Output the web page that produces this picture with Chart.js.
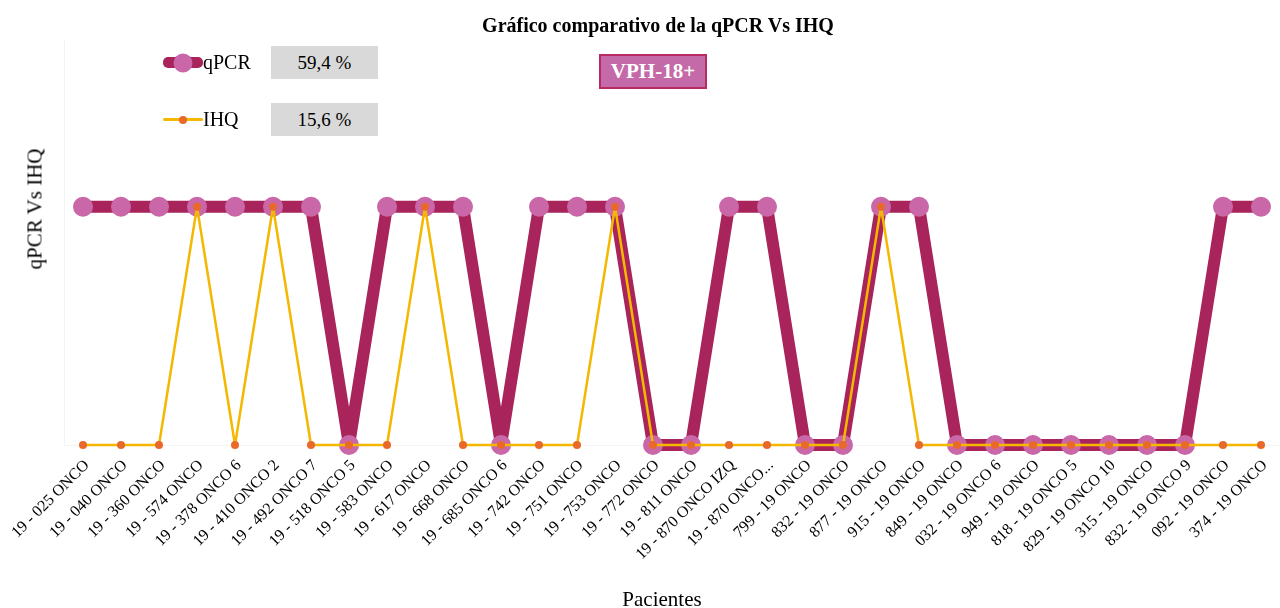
<!DOCTYPE html>
<html>
<head>
<meta charset="utf-8">
<script src="https://cdn.jsdelivr.net/npm/chart.js@4"></script>
<style>
  html, body { margin: 0; padding: 0; background: #fff; }
  #wrap { position: relative; width: 1280px; height: 608px; font-family: "Liberation Serif", serif; }
  #grafico { position: absolute; left: 0; top: 0; }
  .titulo { position: absolute; left: 658px; top: 25px; transform: translate(-50%, -50%); font-size: 20px; font-weight: bold; white-space: nowrap; }
  .xtitulo { position: absolute; left: 662px; top: 599px; transform: translate(-50%, -50%); font-size: 21px; white-space: nowrap; }
  .ytitulo { position: absolute; left: 35px; top: 209px; transform: translate(-50%, -50%) rotate(-90deg); font-size: 21px; white-space: nowrap; }
  .leyenda { position: absolute; left: 163px; height: 33px; display: flex; align-items: center; font-size: 20px; }
  .caja { position: absolute; left: 271px; width: 107px; height: 33px; background: #d9d9d9; font-size: 19px; display: flex; align-items: center; justify-content: center; }
  .mk { position: relative; width: 40px; height: 20px; }
  .mk .ln { position: absolute; left: 0; right: 0; top: 50%; border-radius: 5px; }
  .mk .pt { position: absolute; left: 50%; top: 50%; border-radius: 50%; transform: translate(-50%, -50%); }
  .vph { position: absolute; left: 599px; top: 54px; width: 104px; height: 31px; background: #c46aa8; border: 2px solid #b82a62; color: #fff; font-weight: bold; font-size: 21px; display: flex; align-items: center; justify-content: center; }
</style>
</head>
<body>
<div id="wrap">
  <canvas id="grafico" width="1280" height="608"></canvas>
  <div class="titulo">Gráfico comparativo de la qPCR Vs IHQ</div>
  <div class="ytitulo">qPCR Vs IHQ</div>
  <div class="xtitulo">Pacientes</div>
  <div class="leyenda" style="top:46px">
    <div class="mk"><div class="ln" style="height:11px;margin-top:-5.5px;background:#a8245a"></div><div class="pt" style="width:19px;height:19px;background:#c967a9"></div></div>qPCR
  </div>
  <div class="caja" style="top:46px" id="pct0"></div>
  <div class="leyenda" style="top:103px">
    <div class="mk"><div class="ln" style="height:3px;margin-top:-1.5px;background:#f5b800"></div><div class="pt" style="width:8px;height:8px;background:#e8692a"></div></div>IHQ
  </div>
  <div class="caja" style="top:103px" id="pct1"></div>
  <div class="vph">VPH-18+</div>
</div>
<script>
const pacientes = [
    "19 - 025 ONCO", "19 - 040 ONCO", "19 - 360 ONCO", "19 - 574 ONCO", "19 - 378 ONCO 6",
    "19 - 410 ONCO 2", "19 - 492 ONCO 7", "19 - 518 ONCO 5", "19 - 583 ONCO", "19 - 617 ONCO",
    "19 - 668 ONCO", "19 - 685 ONCO 6", "19 - 742 ONCO", "19 - 751 ONCO", "19 - 753 ONCO",
    "19 - 772 ONCO", "19 - 811 ONCO", "19 - 870 ONCO IZQ", "19 - 870 ONCO...", "799 - 19 ONCO",
    "832 - 19 ONCO", "877 - 19 ONCO", "915 - 19 ONCO", "849 - 19 ONCO", "032 - 19 ONCO 6",
    "949 - 19 ONCO", "818 - 19 ONCO 5", "829 - 19 ONCO 10", "315 - 19 ONCO", "832 - 19 ONCO 9",
    "092 - 19 ONCO", "374 - 19 ONCO"
];
// 1 = positivo, 0 = negativo
const qpcr = [1, 1, 1, 1, 1, 1, 1, 0, 1, 1, 1, 0, 1, 1, 1, 0, 0, 1, 1, 0, 0, 1, 1, 0, 0, 0, 0, 0, 0, 0, 1, 1];
const ihq  = [0, 0, 0, 1, 0, 1, 0, 0, 0, 1, 0, 0, 0, 0, 1, 0, 0, 0, 0, 0, 0, 1, 0, 0, 0, 0, 0, 0, 0, 0, 0, 0];
const porcentajes = ["59,4 %", "15,6 %"];
const yMax = 1.7;

document.getElementById("pct0").textContent = porcentajes[0];
document.getElementById("pct1").textContent = porcentajes[1];

const ctx = document.getElementById('grafico').getContext('2d');

const grafico = new Chart(ctx, {
    type: 'line',
    data: {
        labels: pacientes,
        datasets: [
            {
                label: 'IHQ',
                data: ihq,
                borderColor: '#f5b800',
                backgroundColor: '#e8692a',
                borderWidth: 2.5,
                borderJoinStyle: 'round',
                pointRadius: 4,
                pointBorderWidth: 0,
                pointBackgroundColor: '#e8692a',
                tension: 0,
                clip: false,
                order: 0
            },
            {
                label: 'qPCR',
                data: qpcr,
                borderColor: '#a8245a',
                backgroundColor: '#c967a9',
                borderWidth: 12,
                borderJoinStyle: 'round',
                pointRadius: 10,
                pointBorderWidth: 0,
                pointBackgroundColor: '#c967a9',
                tension: 0,
                clip: false,
                order: 1
            }
        ]
    },
    options: {
        responsive: false,
        animation: false,
        layout: { autoPadding: false, padding: { left: 0, right: 0, top: 40, bottom: 0 } },
        plugins: {
            legend: { display: false },
            tooltip: { enabled: false },
            title: { display: false }
        },
        scales: {
            x: {
                offset: true,
                grid: { display: false },
                border: { color: '#f3f3f3' },
                ticks: {
                    color: '#000',
                    font: { family: 'Liberation Serif', size: 16 },
                    maxRotation: 45,
                    minRotation: 45,
                    autoSkip: false,
                    labelOffset: 4,
                    padding: 3
                },
                afterFit: (scale) => { scale.height = 163; }
            },
            y: {
                min: 0,
                max: yMax,
                grid: { display: false },
                border: { color: '#f3f3f3' },
                ticks: { display: false },
                afterFit: (scale) => { scale.width = 64; }
            }
        }
    }
});
</script>
</body>
</html>
